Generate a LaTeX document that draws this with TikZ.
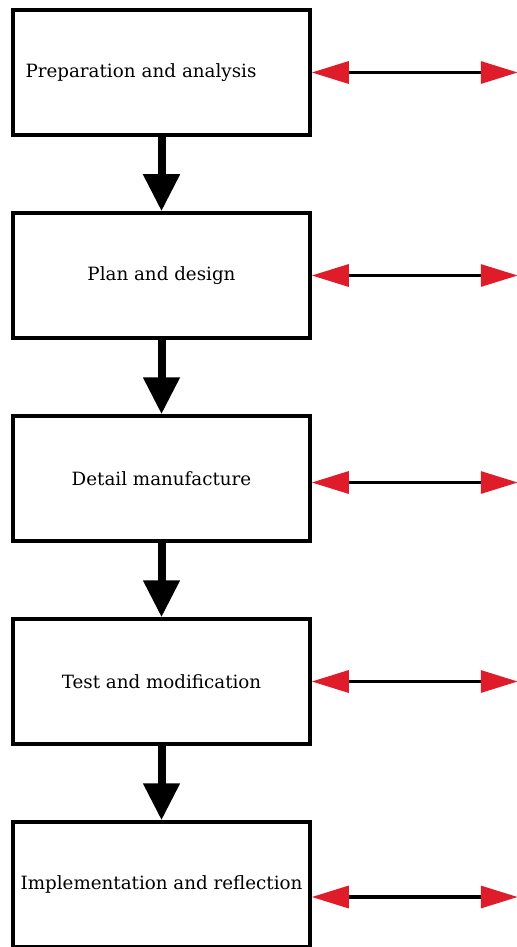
\documentclass[tikz,border=0pt]{standalone}
\usepackage{fontspec}
\setmainfont{DejaVu Serif}
\usetikzlibrary{positioning,arrows.meta}
\definecolor{tipred}{RGB}{222,28,42}

\begin{document}
\begin{tikzpicture}[node distance=4.06cm,on grid,
			stage/.style={rectangle, draw=black, line width=0.07cm, minimum width=5.94cm, minimum height=2.5cm, font=\fontsize{10.4}{12}\selectfont},
			flow/.style={-{Triangle[length=0.74cm,width=0.7cm]}, line width=0.16cm},
			link/.style={{Triangle[length=0.74cm,width=0.44cm,color=tipred]}-{Triangle[length=0.74cm,width=0.44cm,color=tipred]}, line width=0.065cm}
		]
		\useasboundingbox (0,0) rectangle (10.32,-18.94);
		
		\node[stage, text width=5.44cm, align=left] (s_1) at (3.23,-1.45) {Preparation and analysis};
		\node[stage] (s_2) [below=of s_1] {Plan and design};
		\node[stage] (s_3) [below=of s_2] {Detail manufacture};
		\node[stage] (s_4) [below=of s_3] {Test and modification};
		\node[stage] (s_5) [below=of s_4] {Implementation and reflection};
		
		\draw[flow] (s_1) -- (s_2);
		\draw[flow] (s_2) -- (s_3);
		\draw[flow] (s_3) -- (s_4);
		\draw[flow] (s_4) -- (s_5);
		
		% outward links
		\foreach \i/\dy in {1/0,2/0,3/-0.08,4/0,5/-0.25}{
			\coordinate (o_\i) at ([xshift=4.12cm,yshift=\dy cm]s_\i.east);
			\draw[link] ([yshift=\dy cm]s_\i.east) -- (o_\i);
		}
	\end{tikzpicture}
\end{document}
